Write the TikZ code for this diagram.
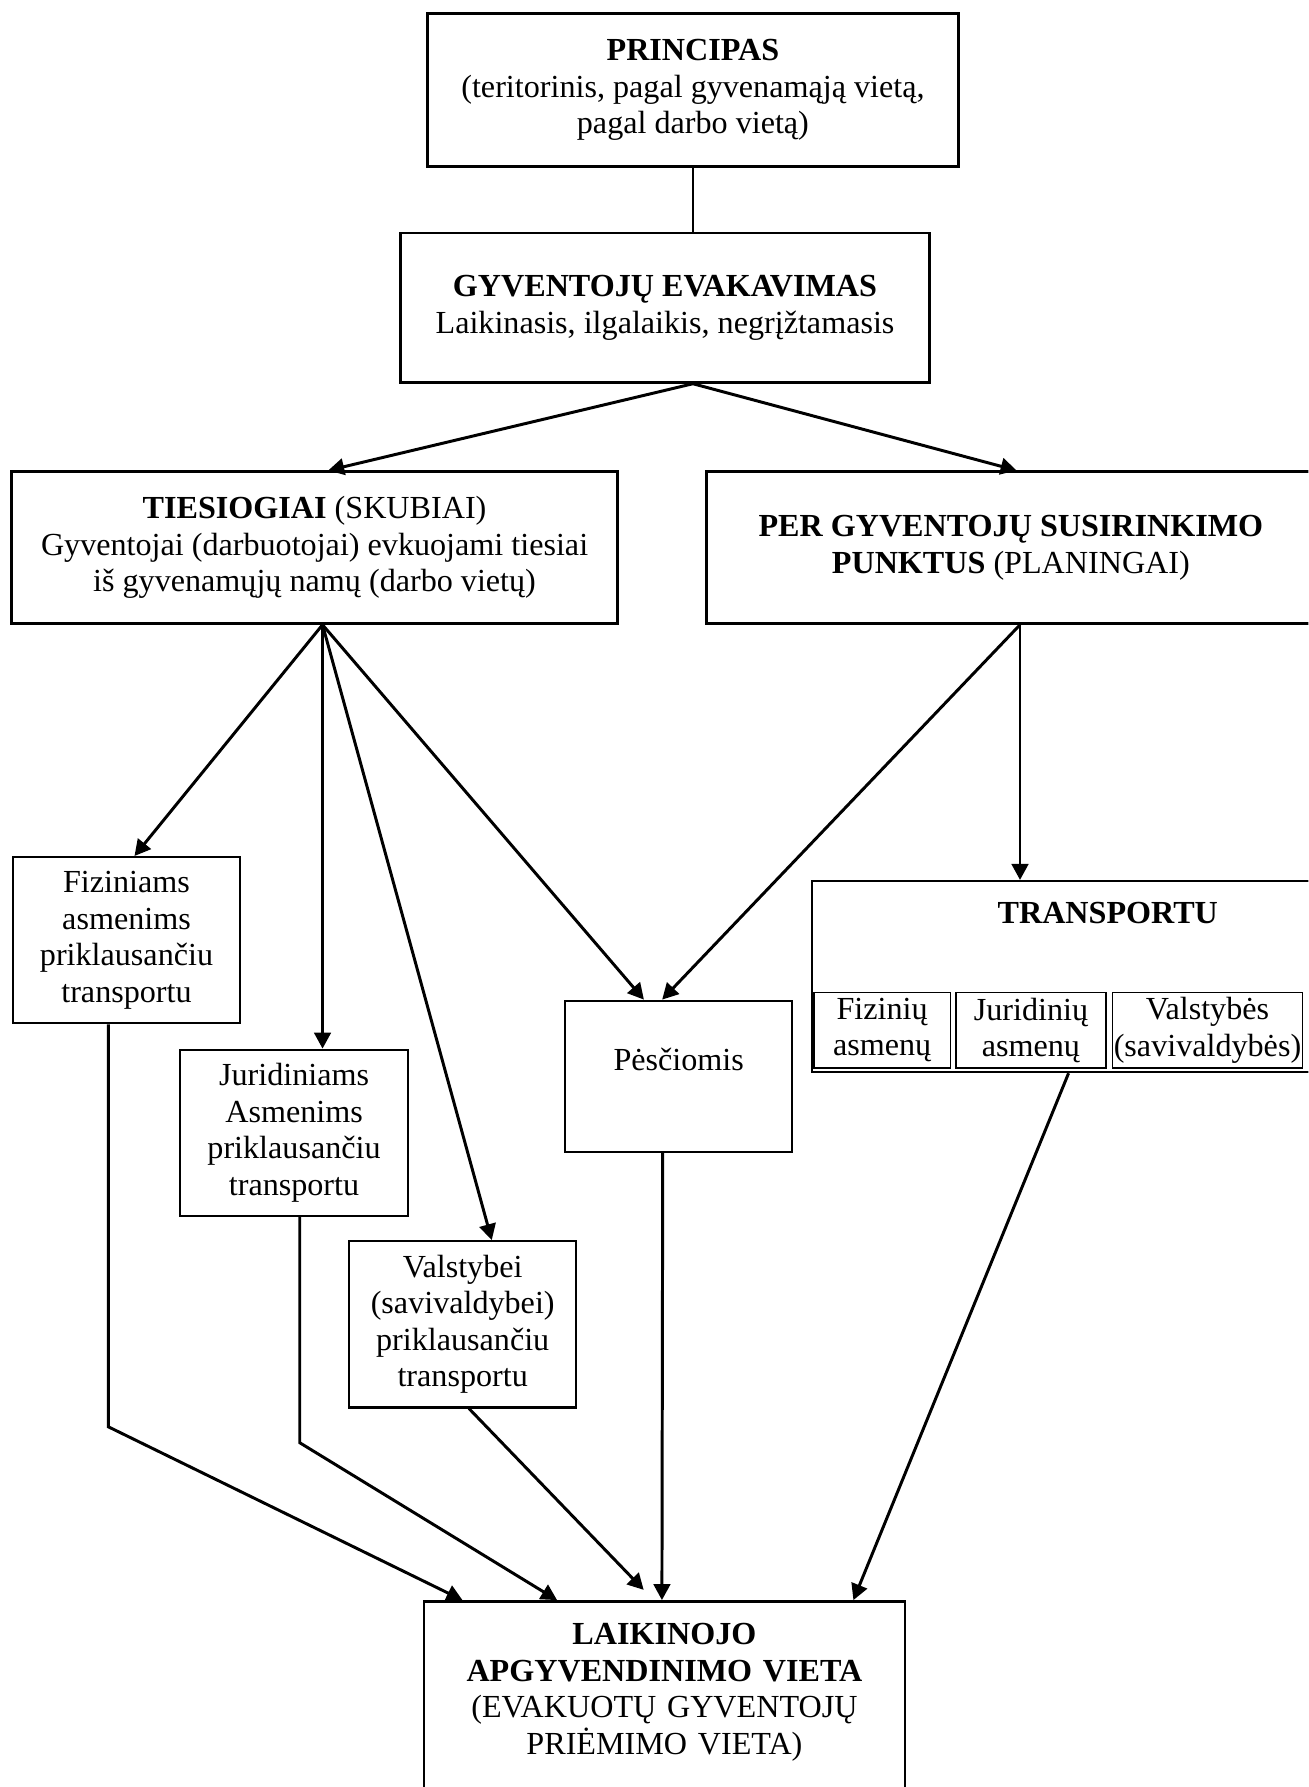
\documentclass[tikz,border=0pt]{standalone}
\usepackage{fontspec}
\setmainfont{Liberation Serif}
\usetikzlibrary{arrows.meta,calc}

\tikzset{
  box/.style={draw, line width=2.4pt, align=center, inner sep=0pt, font=\fontsize{28.2}{32}\selectfont},
  thinbox/.style={box, line width=1.8pt},
  subbox/.style={box, line width=1.4pt},
  arr/.style={line width=2.6pt, -{Triangle[length=14pt,width=14.5pt]}}
}

\begin{document}
\begin{tikzpicture}[x=1pt,y=-1pt]

\useasboundingbox (0,0) rectangle (1148,1568);
\clip (0,0) rectangle (1148,1568);

\node[box, minimum width=466pt, minimum height=134pt] (princ) at (608,79) {\textbf{PRINCIPAS}\\(teritorinis, pagal gyvenamąją vietą,\\pagal darbo vietą)};
\node[box, minimum width=464pt, minimum height=131pt] (gyv) at (583.5,270) {\textbf{GYVENTOJŲ EVAKAVIMAS}\\Laikinasis, ilgalaikis, negrįžtamasis};
\node[box, minimum width=532pt, minimum height=133pt] (ties) at (276,480.5) {\textbf{TIESIOGIAI} (SKUBIAI)\\Gyventojai (darbuotojai) evkuojami tiesiai\\iš gyvenamųjų namų (darbo vietų)};
\node[box, minimum width=534pt, minimum height=133pt] (per) at (887,480.5) {\textbf{PER GYVENTOJŲ SUSIRINKIMO}\\\textbf{PUNKTUS} (PLANINGAI)};

\node[thinbox, minimum width=200pt, minimum height=146pt] (fiz) at (111,825) {Fiziniams\\asmenims\\priklausančiu\\transportu};
\node[thinbox, minimum width=200pt, minimum height=146pt] (jur) at (258,994) {Juridiniams\\Asmenims\\priklausančiu\\transportu};
\node[thinbox, minimum width=199pt, minimum height=146pt] (val) at (406,1162) {Valstybei\\(savivaldybei)\\priklausančiu\\transportu};
\node[thinbox, minimum width=199pt, minimum height=133pt, text height=61.5pt, text depth=71.5pt] (pesc) at (595.5,944.5) {Pėsčiomis};

\node[thinbox, minimum width=519pt, text height=37pt, text depth=131pt] (trans) at (972,857) {\textbf{TRANSPORTU}};
\node[subbox, minimum width=120pt, minimum height=66pt] (fizA) at (774,904) {Fizinių\\asmenų};
\node[subbox, minimum width=132pt, minimum height=66pt] (jurA) at (904.6,904) {Juridinių\\asmenų};
\node[subbox, minimum width=167pt, minimum height=66pt] (valA) at (1059.5,904) {Valstybės\\(savivaldybės)};

\node[box, anchor=north, minimum width=422pt, text width=410pt, text height=38pt, text depth=200pt] (laik) at (583,1404) {\textbf{LAIKINOJO}\\\textbf{APGYVENDINIMO VIETA}\\(EVAKUOTŲ GYVENTOJŲ\\PRIĖMIMO VIETA)};

\draw[line width=2.4pt] (princ.south) -- (princ.south |- gyv.north);
\draw[arr] (gyv.south -| princ.south) -- ($(ties.north)+(12,0)$);
\draw[arr] (gyv.south -| princ.south) -- ($(per.north)+(5,0)$);

\coordinate (tsrc) at ($(ties.south)+(7,0)$);
\draw[arr] (tsrc) -- ($(fiz.north)+(7,0)$);
\draw[arr] (tsrc) -- (tsrc |- jur.north);
\draw[arr] (tsrc) -- ($(val.north)+(25.5,0)$);
\draw[arr] (tsrc) -- ($(pesc.north)+(-30.5,0)$);

\coordinate (psrc) at ($(per.south)+(8,0)$);
\draw[arr] (psrc) -- ($(pesc.north)+(-14.5,0)$);
\draw[arr] (psrc) -- (psrc |- trans.north);

\draw[arr] ($(fiz.south)+(-16,0)$) -- ++(0,353) -- ($(laik.north west)+(35,0)$);
\draw[arr] ($(jur.south)+(5,0)$) -- ++(0,198) -- ($(laik.north west)+(118,0)$);
\draw[arr] ($(val.south)+(5.5,0)$) -- ($(laik.north west)+(194,-9)$);
\draw[arr] ($(pesc.south)+(-14,0)$) -- ($(laik.north west)+(210,0)$);
\draw[arr] ($(jurA.south)+(33,4)$) -- ($(laik.north west)+(378,0)$);

\end{tikzpicture}
\end{document}
